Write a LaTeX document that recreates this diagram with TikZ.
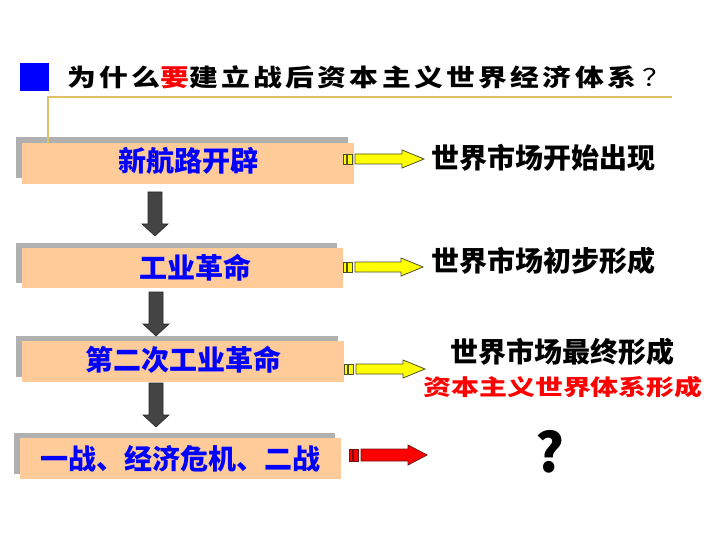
\documentclass[tikz,border=0pt]{standalone}
\usepackage{fontspec}
\newfontfamily\cjk{Noto Sans CJK SC}
\newfontfamily\cjktitle[FakeStretch=1.2,LetterSpace=14]{Noto Sans CJK SC}
\newfontfamily\cjkwide[FakeStretch=1.27]{Noto Sans CJK SC}
\usetikzlibrary{shadows,calc}
\definecolor{boxfill}{RGB}{255,204,153}
\definecolor{shadowgray}{RGB}{176,176,176}
\definecolor{goldline}{RGB}{222,192,104}
\definecolor{darkarr}{RGB}{68,68,68}
\definecolor{darkedge}{RGB}{40,40,40}
\definecolor{yellowfill}{RGB}{255,255,0}
\definecolor{yellowedge}{RGB}{80,80,40}
\definecolor{redfill}{RGB}{255,0,0}
\definecolor{rededge}{RGB}{110,20,20}
\definecolor{boxtext}{RGB}{0,0,255}
\tikzset{
  box/.style={fill=boxfill, draw=none, inner sep=0pt,
    general shadow={fill=shadowgray, shadow xshift=-6pt, shadow yshift=5.5pt}},
  boxlabel/.style={inner sep=0pt, text=boxtext, font=\cjk\bfseries\fontsize{28}{28}\selectfont},
  resultlabel/.style={inner sep=0pt, text=black, font=\cjk\bfseries\fontsize{28}{28}\selectfont},
  yellowarrow/.style={fill=yellowfill, draw=yellowedge, line width=0.8pt, line join=miter},
  redarrow/.style={fill=redfill, draw=rededge, line width=0.8pt, line join=miter},
  darkarrow/.style={fill=darkarr, draw=darkedge, line width=0.6pt, line join=miter},
}
% block arrow to the right: style, from, to, half shaft, half head, head length
\newcommand{\blockR}[6]{%
  \path[#1] let \p1=(#2), \p2=(#3) in
    (\x1,\y1+#4) -- (\x2-#6,\y1+#4) -- (\x2-#6,\y1+#5) -- (\x2,\y1)
    -- (\x2-#6,\y1-#5) -- (\x2-#6,\y1-#4) -- (\x1,\y1-#4) -- cycle;
  \path[#1] let \p1=(#2) in
    (\x1-12pt,\y1+#4) rectangle (\x1-9pt,\y1-#4)
    (\x1-8pt,\y1+#4) rectangle (\x1-3pt,\y1-#4);
}
% block arrow downwards: from, to
\newcommand{\blockD}[2]{%
  \path[darkarrow] let \p1=(#1), \p2=(#2) in
    (\x1-7pt,\y1) -- (\x1-7pt,\y2+12pt) -- (\x1-13pt,\y2+12pt) -- (\x1,\y2)
    -- (\x1+13pt,\y2+12pt) -- (\x1+7pt,\y2+12pt) -- (\x1+7pt,\y1) -- cycle;
}
\begin{document}
\begin{tikzpicture}[x=1pt,y=-1pt]
\useasboundingbox (0,0) rectangle (720,540);

% title
\fill[blue] (20,63) rectangle (49,91);
\node[anchor=west, inner sep=0pt] (title) at (67,77)
  {\cjktitle\bfseries\fontsize{24}{24}\selectfont 为什么{\color{red}要}建立战后资本主义世界经济体系\hspace{6pt}{\mdseries ？}};

% boxes
\node[box, minimum width=332pt, minimum height=41pt] (b1) at (188,163.5) {};
\node[box, minimum width=321pt, minimum height=40pt] (b2) at (182.5,268) {};
\node[box, minimum width=322pt, minimum height=41pt] (b3) at (183,361.5) {};
\node[box, minimum width=321pt, minimum height=41pt] (b4) at (180.5,458.5) {};

% gold bracket line
\coordinate (g1) at (48,143);
\coordinate (g2) at (48,97);
\coordinate (g3) at (672,97);
\draw[goldline, line width=2.5pt] (g1) -- (g2) -- (g3);

% box texts
\node[boxlabel] (t1) at (188,161) {新航路开辟};
\node[boxlabel] (t2) at (195,268) {工业革命};
\node[boxlabel] (t3) at (183,360) {第二次工业革命};
\node[boxlabel] (t4) at (180,459) {一战、经济危机、二战};

% result texts
\node[resultlabel] (r1) at (543.5,158) {世界市场开始出现};
\node[resultlabel] (r2) at (543.5,261) {世界市场初步形成};
\node[resultlabel] (r3) at (562,352) {世界市场最终形成};
\node[inner sep=0pt, text=red] (r4) at (563,387)
  {\cjkwide\bfseries\fontsize{22}{22}\selectfont 资本主义世界体系形成};
\node[inner sep=0pt] (q) at (550,452) {\cjk\bfseries\fontsize{54}{54}\selectfont ?};

% down arrows
\coordinate (d1s) at (155,192); \coordinate (d1e) at (155,236);
\coordinate (d2s) at (156,292); \coordinate (d2e) at (156,336);
\coordinate (d3s) at (156,383); \coordinate (d3e) at (156,427);
\blockD{d1s}{d1e}
\blockD{d2s}{d2e}
\blockD{d3s}{d3e}

% right arrows
\coordinate (a1s) at (355,159); \coordinate (a1e) at (424,159);
\coordinate (a2s) at (355,267); \coordinate (a2e) at (423,267);
\coordinate (a3s) at (356,369); \coordinate (a3e) at (425,369);
\coordinate (a4s) at (361,455); \coordinate (a4e) at (427,455);
\blockR{yellowarrow}{a1s}{a1e}{5pt}{9pt}{22pt}
\blockR{yellowarrow}{a2s}{a2e}{5pt}{9pt}{22pt}
\blockR{yellowarrow}{a3s}{a3e}{5pt}{9pt}{22pt}
\blockR{redarrow}{a4s}{a4e}{6pt}{10pt}{19pt}
\end{tikzpicture}
\end{document}
